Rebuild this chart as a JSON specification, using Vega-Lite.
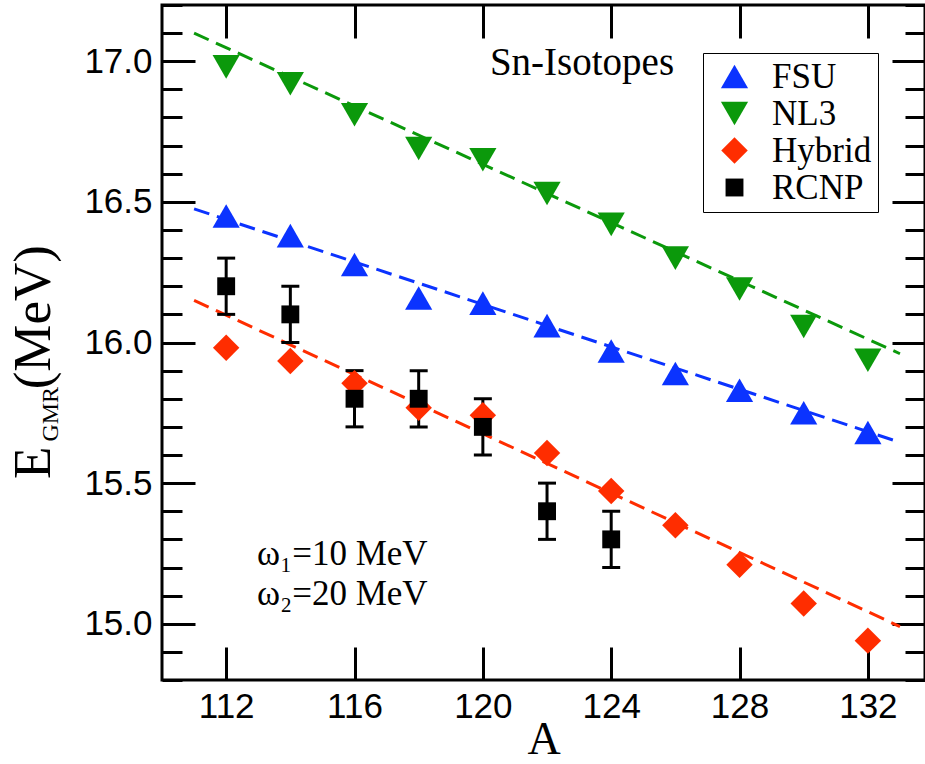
{
  "$schema": "https://vega.github.io/schema/vega-lite/v6.json",
  "width": 763,
  "height": 675,
  "autosize": {"type": "none"},
  "padding": {"left": 162, "top": 5, "right": 0, "bottom": 84},
  "background": "white",
  "config": {
    "view": {"stroke": "black", "strokeWidth": 3},
    "axis": {"domain": false, "grid": false, "tickColor": "black", "tickWidth": 3, "labelFont": "Liberation Sans", "labelFontSize": 35, "labelColor": "black", "titleColor": "black", "labelOverlap": false}
  },
  "datasets": {
    "fit": [
      {"model": "FSU", "A": 111, "E": 16.475},
      {"model": "FSU", "A": 133, "E": 15.645},
      {"model": "NL3", "A": 111, "E": 17.10},
      {"model": "NL3", "A": 133, "E": 15.96},
      {"model": "Hybrid", "A": 111, "E": 16.15},
      {"model": "Hybrid", "A": 133, "E": 14.99}
    ],
    "theory": [
      {"model": "FSU", "A": 112, "E": 16.45},
      {"model": "FSU", "A": 114, "E": 16.38},
      {"model": "FSU", "A": 116, "E": 16.277},
      {"model": "FSU", "A": 118, "E": 16.158},
      {"model": "FSU", "A": 120, "E": 16.14},
      {"model": "FSU", "A": 122, "E": 16.06},
      {"model": "FSU", "A": 124, "E": 15.97},
      {"model": "FSU", "A": 126, "E": 15.89},
      {"model": "FSU", "A": 128, "E": 15.83},
      {"model": "FSU", "A": 130, "E": 15.75},
      {"model": "FSU", "A": 132, "E": 15.68},
      {"model": "NL3", "A": 112, "E": 16.98},
      {"model": "NL3", "A": 114, "E": 16.92},
      {"model": "NL3", "A": 116, "E": 16.81},
      {"model": "NL3", "A": 118, "E": 16.69},
      {"model": "NL3", "A": 120, "E": 16.65},
      {"model": "NL3", "A": 122, "E": 16.53},
      {"model": "NL3", "A": 124, "E": 16.42},
      {"model": "NL3", "A": 126, "E": 16.30},
      {"model": "NL3", "A": 128, "E": 16.19},
      {"model": "NL3", "A": 130, "E": 16.057},
      {"model": "NL3", "A": 132, "E": 15.937},
      {"model": "Hybrid", "A": 112, "E": 15.981},
      {"model": "Hybrid", "A": 114, "E": 15.934},
      {"model": "Hybrid", "A": 116, "E": 15.855},
      {"model": "Hybrid", "A": 118, "E": 15.768},
      {"model": "Hybrid", "A": 120, "E": 15.741},
      {"model": "Hybrid", "A": 122, "E": 15.607},
      {"model": "Hybrid", "A": 124, "E": 15.472},
      {"model": "Hybrid", "A": 126, "E": 15.35},
      {"model": "Hybrid", "A": 128, "E": 15.21},
      {"model": "Hybrid", "A": 130, "E": 15.072},
      {"model": "Hybrid", "A": 132, "E": 14.94}
    ],
    "rcnp": [
      {"model": "RCNP", "A": 112, "E": 16.2, "lo": 16.1, "hi": 16.3},
      {"model": "RCNP", "A": 114, "E": 16.1, "lo": 16.0, "hi": 16.2},
      {"model": "RCNP", "A": 116, "E": 15.8, "lo": 15.7, "hi": 15.9},
      {"model": "RCNP", "A": 118, "E": 15.8, "lo": 15.7, "hi": 15.9},
      {"model": "RCNP", "A": 120, "E": 15.7, "lo": 15.6, "hi": 15.8},
      {"model": "RCNP", "A": 122, "E": 15.4, "lo": 15.3, "hi": 15.5},
      {"model": "RCNP", "A": 124, "E": 15.3, "lo": 15.2, "hi": 15.4}
    ]
  },
  "resolve": {"axis": {"x": "independent", "y": "independent"}},
  "layer": [
    {
      "data": {"name": "fit"},
      "mark": {"type": "line", "strokeWidth": 3, "strokeDash": [16, 8]},
      "encoding": {
        "x": {"field": "A", "type": "quantitative", "scale": {"domain": [110, 133.78], "nice": false, "zero": false},
          "axis": {"orient": "bottom", "values": [112, 116, 120, 124, 128, 132], "tickSize": -33, "labelPadding": 42, "title": "A", "titleFont": "Liberation Serif", "titleFontSize": 46, "titleFontWeight": "normal", "titlePadding": -7}},
        "y": {"field": "E", "type": "quantitative", "scale": {"domain": [14.8, 17.2], "nice": false, "zero": false},
          "axis": {"orient": "left", "values": [15, 15.5, 16, 16.5, 17], "format": ".1f", "tickSize": -33, "labelPadding": 43, "title": null}},
        "stroke": {"field": "model", "type": "nominal", "scale": {"domain": ["FSU", "NL3", "Hybrid"], "range": ["#0b33ff", "#0b990b", "#ff2d00"]}, "legend": null}
      }
    },
    {
      "data": {"name": "rcnp"},
      "mark": {"type": "rule", "strokeWidth": 3, "color": "black"},
      "encoding": {
        "x": {"field": "A", "type": "quantitative", "scale": {"domain": [110, 133.78], "nice": false, "zero": false},
          "axis": {"orient": "top", "values": [112, 116, 120, 124, 128, 132], "tickSize": -33, "labels": false, "title": null}},
        "y": {"field": "lo", "type": "quantitative", "scale": {"domain": [14.8, 17.2], "nice": false, "zero": false},
          "axis": {"orient": "right", "values": [15, 15.5, 16, 16.5, 17], "tickSize": -33, "labels": false, "title": null}},
        "y2": {"field": "hi"}
      }
    },
    {
      "data": {"name": "rcnp"},
      "mark": {"type": "tick", "orient": "horizontal", "size": 18, "thickness": 3, "color": "black", "opacity": 1},
      "encoding": {
        "x": {"field": "A", "type": "quantitative", "scale": {"domain": [110, 133.78], "nice": false, "zero": false}, "axis": null},
        "y": {"field": "lo", "type": "quantitative", "scale": {"domain": [14.8, 17.2], "nice": false, "zero": false},
          "axis": {"orient": "left", "values": [14.8, 14.9, 15.0, 15.1, 15.2, 15.3, 15.4, 15.5, 15.6, 15.7, 15.8, 15.9, 16.0, 16.1, 16.2, 16.3, 16.4, 16.5, 16.6, 16.7, 16.8, 16.9, 17.0, 17.1, 17.2], "tickSize": -20, "labels": false, "title": null}}
      }
    },
    {
      "data": {"name": "rcnp"},
      "mark": {"type": "tick", "orient": "horizontal", "size": 18, "thickness": 3, "color": "black", "opacity": 1},
      "encoding": {
        "x": {"field": "A", "type": "quantitative", "scale": {"domain": [110, 133.78], "nice": false, "zero": false}, "axis": null},
        "y": {"field": "hi", "type": "quantitative", "scale": {"domain": [14.8, 17.2], "nice": false, "zero": false},
          "axis": {"orient": "right", "values": [14.8, 14.9, 15.0, 15.1, 15.2, 15.3, 15.4, 15.5, 15.6, 15.7, 15.8, 15.9, 16.0, 16.1, 16.2, 16.3, 16.4, 16.5, 16.6, 16.7, 16.8, 16.9, 17.0, 17.1, 17.2], "tickSize": -20, "labels": false, "title": null}}
      }
    },
    {
      "data": {"name": "theory"},
      "mark": {"type": "point", "filled": true, "opacity": 1, "strokeWidth": 0},
      "encoding": {
        "x": {"field": "A", "type": "quantitative", "scale": {"domain": [110, 133.78], "nice": false, "zero": false}, "axis": null},
        "y": {"field": "E", "type": "quantitative", "scale": {"domain": [14.8, 17.2], "nice": false, "zero": false}, "axis": null},
        "color": {"field": "model", "type": "nominal", "scale": {"domain": ["FSU", "NL3", "Hybrid", "RCNP"], "range": ["#0b33ff", "#0b990b", "#ff2d00", "#000000"]},
          "legend": {"title": null, "orient": "none", "legendX": 541, "legendY": 48, "labelFont": "Liberation Serif", "labelFontSize": 35, "labelColor": "black", "strokeColor": "black", "padding": 6, "rowPadding": 1, "labelOffset": 20, "symbolOffset": 8, "symbolStrokeWidth": 0, "labelLimit": 300,
            "encode": {"legend": {"update": {"strokeWidth": {"value": 3}}}}}},
        "shape": {"field": "model", "type": "nominal", "scale": {"domain": ["FSU", "NL3", "Hybrid", "RCNP"], "range": ["triangle-up", "triangle-down", "diamond", "square"]}},
        "size": {"field": "model", "type": "nominal", "scale": {"type": "ordinal", "domain": ["FSU", "NL3", "Hybrid", "RCNP"], "range": [740, 740, 700, 320]}}
      }
    },
    {
      "data": {"name": "rcnp"},
      "mark": {"type": "point", "filled": true, "opacity": 1, "strokeWidth": 0},
      "encoding": {
        "x": {"field": "A", "type": "quantitative", "scale": {"domain": [110, 133.78], "nice": false, "zero": false}, "axis": null},
        "y": {"field": "E", "type": "quantitative", "scale": {"domain": [14.8, 17.2], "nice": false, "zero": false}, "axis": null},
        "color": {"field": "model", "type": "nominal", "scale": {"domain": ["FSU", "NL3", "Hybrid", "RCNP"], "range": ["#0b33ff", "#0b990b", "#ff2d00", "#000000"]}},
        "shape": {"field": "model", "type": "nominal", "scale": {"domain": ["FSU", "NL3", "Hybrid", "RCNP"], "range": ["triangle-up", "triangle-down", "diamond", "square"]}},
        "size": {"field": "model", "type": "nominal", "scale": {"type": "ordinal", "domain": ["FSU", "NL3", "Hybrid", "RCNP"], "range": [740, 740, 700, 320]}}
      }
    },
    {
      "data": {"values": [{"label": "Sn-Isotopes", "A": 120.22, "E": 16.951}]},
      "mark": {"type": "text", "font": "Liberation Serif", "fontSize": 39, "align": "left", "baseline": "alphabetic", "color": "black"},
      "encoding": {
        "x": {"field": "A", "type": "quantitative", "scale": {"domain": [110, 133.78], "nice": false, "zero": false}, "axis": null},
        "y": {"field": "E", "type": "quantitative", "scale": {"domain": [14.8, 17.2], "nice": false, "zero": false}, "axis": null},
        "text": {"field": "label"}
      }
    },
    {
      "data": {"values": [{"label": "ω₁=10 MeV", "A": 112.96, "E": 15.209}, {"label": "ω₂=20 MeV", "A": 112.96, "E": 15.067}]},
      "mark": {"type": "text", "font": "Liberation Serif", "fontSize": 35, "align": "left", "baseline": "alphabetic", "color": "black"},
      "encoding": {
        "x": {"field": "A", "type": "quantitative", "scale": {"domain": [110, 133.78], "nice": false, "zero": false}, "axis": null},
        "y": {"field": "E", "type": "quantitative", "scale": {"domain": [14.8, 17.2], "nice": false, "zero": false}, "axis": null},
        "text": {"field": "label"}
      }
    },
    {
      "data": {"values": [{"label": "E", "A": 106.51, "E": 15.572}, {"label": "(MeV)", "A": 106.51, "E": 16.09}]},
      "mark": {"type": "text", "font": "Liberation Serif", "fontSize": 53, "align": "center", "baseline": "alphabetic", "angle": 270, "color": "black"},
      "encoding": {
        "x": {"field": "A", "type": "quantitative", "scale": {"domain": [110, 133.78], "nice": false, "zero": false}, "axis": null},
        "y": {"field": "E", "type": "quantitative", "scale": {"domain": [14.8, 17.2], "nice": false, "zero": false}, "axis": null},
        "text": {"field": "label"}
      }
    },
    {
      "data": {"values": [{"label": "GMR", "A": 106.76, "E": 15.745}]},
      "mark": {"type": "text", "font": "Liberation Serif", "fontSize": 24, "align": "center", "baseline": "alphabetic", "angle": 270, "color": "black"},
      "encoding": {
        "x": {"field": "A", "type": "quantitative", "scale": {"domain": [110, 133.78], "nice": false, "zero": false}, "axis": null},
        "y": {"field": "E", "type": "quantitative", "scale": {"domain": [14.8, 17.2], "nice": false, "zero": false}, "axis": null},
        "text": {"field": "label"}
      }
    }
  ]
}
